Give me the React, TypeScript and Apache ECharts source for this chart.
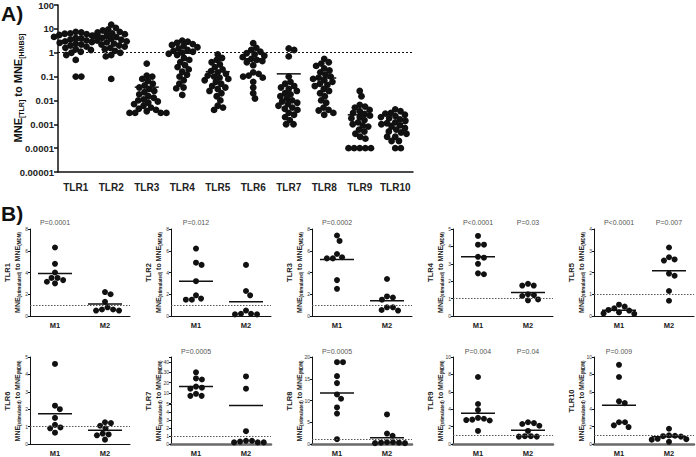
import React, { useEffect, useRef } from "react";
import * as echarts from "echarts";

const FONT = "'Liberation Sans', Arial, Helvetica, sans-serif";

// ---------------- Panel A data ----------------
const tlrCategories = ["TLR1", "TLR2", "TLR3", "TLR4", "TLR5", "TLR6", "TLR7", "TLR8", "TLR9", "TLR10"];

const aTLR1 = [7.5, 7, 6.5, 6.2, 6, 5.5, 5.2, 5, 4.6, 4.2, 4, 3.6, 3.3, 3, 2.8, 2.6, 2.4, 2.2, 2, 1.8, 1.6, 1.4, 1.3, 1.1, 1, 0.8, 0.5, 0.1, 0.1];
const aTLR2 = [15, 11, 9.5, 8.5, 7.5, 7, 6.5, 6, 5.5, 5, 4.5, 4.2, 3.8, 3.5, 3.2, 3, 2.7, 2.4, 2.2, 2, 1.8, 1.6, 1.4, 1.2, 1, 0.8, 0.7, 0.08];
const aTLR3 = [0.35, 0.11, 0.1, 0.08, 0.065, 0.05, 0.042, 0.035, 0.03, 0.025, 0.022, 0.018, 0.015, 0.013, 0.011, 0.01, 0.009, 0.008, 0.007, 0.006, 0.005, 0.0045, 0.004, 0.0035, 0.003, 0.003, 0.003, 0.003];
const aTLR4 = [3.2, 2.9, 2.6, 2.3, 2.1, 1.9, 1.7, 1.5, 1.3, 1.2, 1.1, 1, 0.9, 0.8, 0.6, 0.5, 0.4, 0.3, 0.25, 0.2, 0.16, 0.12, 0.1, 0.07, 0.05, 0.035, 0.032, 0.017];
const aTLR5 = [0.85, 0.6, 0.5, 0.4, 0.32, 0.25, 0.2, 0.17, 0.15, 0.13, 0.11, 0.1, 0.09, 0.08, 0.07, 0.06, 0.05, 0.04, 0.035, 0.03, 0.025, 0.02, 0.015, 0.01, 0.006, 0.005, 0.004];
const aTLR6 = [2.5, 1.6, 1.3, 1.1, 0.95, 0.85, 0.75, 0.65, 0.55, 0.5, 0.45, 0.4, 0.3, 0.15, 0.13, 0.11, 0.1, 0.09, 0.06, 0.035, 0.02, 0.012];
const aTLR7 = [1.5, 1.3, 0.7, 0.1, 0.06, 0.05, 0.04, 0.035, 0.03, 0.025, 0.02, 0.018, 0.015, 0.012, 0.01, 0.009, 0.008, 0.007, 0.006, 0.005, 0.0045, 0.004, 0.003, 0.0025, 0.002, 0.0015, 0.001, 0.001];
const aTLR8 = [0.55, 0.4, 0.35, 0.28, 0.22, 0.18, 0.15, 0.12, 0.1, 0.09, 0.08, 0.07, 0.06, 0.05, 0.045, 0.04, 0.03, 0.025, 0.02, 0.015, 0.01, 0.008, 0.005, 0.004, 0.0038, 0.003, 0.0025];
const aTLR9 = [0.025, 0.015, 0.0065, 0.0055, 0.005, 0.004, 0.0035, 0.003, 0.0027, 0.0023, 0.002, 0.0018, 0.0015, 0.0012, 0.001, 0.0009, 0.0008, 0.0006, 0.0005, 0.0004, 0.0003, 0.00025, 0.0001, 0.0001, 0.0001, 0.0001, 0.0001];
const aTLR10 = [0.0042, 0.0035, 0.003, 0.0028, 0.0025, 0.0022, 0.002, 0.0018, 0.0016, 0.0014, 0.0012, 0.0011, 0.001, 0.0009, 0.0008, 0.0007, 0.0006, 0.0005, 0.00045, 0.0004, 0.0003, 0.0003, 0.0002, 0.0002, 0.0001, 0.0001];
const aValues = [aTLR1, aTLR2, aTLR3, aTLR4, aTLR5, aTLR6, aTLR7, aTLR8, aTLR9, aTLR10];
const aMeans = [3.3, 4.0, 0.036, 0.95, 0.16, 0.56, 0.13, 0.087, 0.0025, 0.0011];
const aYMin = 0.00001;
const aYMax = 100;
const referenceLevel = 1;

// ---------------- Panel B data ----------------
const bGroups = ["M1", "M2"];
const bTitles = ["TLR1", "TLR2", "TLR3", "TLR4", "TLR5", "TLR6", "TLR7", "TLR8", "TLR9", "TLR10"];

const bM1 = [
  [6.3, 4.8, 4.0, 3.5, 3.3, 3.0, 3.15, 3.5],
  [6.2, 4.7, 4.9, 3.2, 1.6, 1.5, 1.5, 1.9],
  [7.4, 6.9, 5.4, 5.3, 5.3, 5.7, 3.3, 2.5],
  [4.6, 4.1, 4.1, 3.4, 3.35, 3.0, 2.4, 2.45],
  [0.52, 0.43, 0.35, 0.28, 0.25, 0.17, 0.12, 0.1],
  [4.6, 2.2, 2.0, 1.5, 1.1, 0.95, 0.9, 0.65],
  [30, 24, 23, 16, 15, 14, 9, 7, 7],
  [18.8, 18.8, 15.6, 14, 11.4, 10.4, 8.4, 7, 1.1],
  [7.7, 4.6, 3.9, 2.9, 2.7, 2.75, 2.8, 3.0, 1.5],
  [9.1, 7.7, 4.9, 4.7, 2.5, 1.95, 2.15, 2.5],
];
const bM2 = [
  [2.2, 2.0, 1.3, 0.8, 0.6, 0.5, 0.5, 0.6],
  [4.7, 2.3, 1.9, 0.5, 0.2, 0.15, 0.15, 0.2],
  [3.4, 1.7, 1.5, 1.8, 0.8, 0.5, 0.55, 0.8],
  [1.75, 1.75, 1.85, 1.2, 1.15, 1.25, 0.9, 0.95],
  [3.15, 2.7, 2.6, 2.55, 1.95, 1.85, 1.15, 0.7],
  [1.25, 1.2, 1.05, 0.9, 0.6, 0.55, 0.5, 0.25],
  [26, 14, 1.6, 0.4, 0.3, 0.2, 0.2, 0.2, 0.4],
  [6.8, 2.4, 1.9, 0.4, 0.3, 0.2, 0.3, 0.2, 0.4],
  [2.5, 2.3, 2.1, 2.4, 1.5, 0.9, 0.85, 0.85, 0.9],
  [1.75, 0.95, 1.0, 0.85, 0.6, 0.5, 0.55, 0.25, 0.9],
];
const bMeanM1 = [3.9, 3.2, 5.2, 3.4, 0.27, 1.74, 16.1, 11.7, 3.54, 4.44];
const bMeanM2 = [1.1, 1.3, 1.4, 1.35, 2.08, 0.79, 4.8, 1.43, 1.59, 0.82];
const bYMax = [8, 8, 8, 5, 4, 5, 5, 20, 10, 10];
const bYInterval = [2, 2, 2, 1, 1, 1, 1, 5, 2, 2];
const tlr7UpperMax = 45;
const tlr7UpperInterval = 10;
const tlr7BreakValue = 5;
const pM1 = ["P=0.0001", "P=0.012", "P=0.0002", "P<0.0001", "P<0.0001", "", "P=0.0005", "P=0.0005", "P=0.004", "P=0.009"];
const pM2 = ["", "", "", "P=0.03", "P=0.007", "", "", "", "P=0.04", ""];

// ---------------- layout ----------------
const A_LEFT = 58, A_TOP = 4, A_WIDTH = 355, A_HEIGHT = 168;
const panelLeft = [30, 171, 312, 453, 594];
const panelWidth = 100;
const rowTop = [229, 357];
const rowHeight = [87, 88];
const rowPY = [222, 351];

// beeswarm: pixel offsets so that dots of spacing d do not collide
function swarm(pixYs: number[], d: number): number[] {
  const order = pixYs.map((_, i) => i).sort((a, b) => pixYs[a] - pixYs[b]);
  const placed: { x: number; y: number }[] = [];
  const out = new Array(pixYs.length).fill(0);
  for (const i of order) {
    const y = pixYs[i];
    const ints: [number, number][] = [];
    for (const p of placed) {
      const dy = Math.abs(p.y - y);
      if (dy < d) {
        const w = Math.sqrt(d * d - dy * dy);
        ints.push([p.x - w, p.x + w]);
      }
    }
    const cands = [0];
    ints.forEach(([a, b]) => cands.push(a, b));
    cands.sort((a, b) => Math.abs(a) - Math.abs(b) || b - a);
    let chosen = 0;
    for (const c of cands) {
      if (ints.every(([a, b]) => c <= a + 1e-6 || c >= b - 1e-6)) {
        chosen = c;
        break;
      }
    }
    placed.push({ x: chosen, y });
    out[i] = chosen;
  }
  return out;
}

function meanLine(xi: number, yi: number, data: number[][], half: number, width: number) {
  return {
    type: "custom",
    xAxisIndex: xi,
    yAxisIndex: yi,
    data,
    silent: true,
    z: 4,
    encode: { x: 0, y: 1 },
    renderItem: (_params: any, api: any) => {
      const p = api.coord([api.value(0), api.value(1)]);
      return {
        type: "line",
        shape: { x1: p[0] - half, y1: p[1], x2: p[0] + half, y2: p[1] },
        style: { stroke: "#111", lineWidth: width },
      };
    },
  };
}

function rotText(x: number, y: number, text: string, rich: any, extra: any = {}) {
  return {
    type: "text",
    x,
    y,
    rotation: Math.PI / 2,
    silent: true,
    style: {
      text,
      rich,
      fill: "#111",
      fontFamily: FONT,
      align: "center",
      verticalAlign: "middle",
      textAlign: "center",
      textVerticalAlign: "middle",
      ...extra,
    },
  };
}

function plainText(x: number, y: number, text: string, size: number, weight: string, color: string, align = "center") {
  return {
    type: "text",
    x,
    y,
    silent: true,
    style: {
      text,
      fill: color,
      fontFamily: FONT,
      fontSize: size,
      fontWeight: weight,
      align,
      verticalAlign: "middle",
      textAlign: align,
      textVerticalAlign: "middle",
    },
  };
}

function buildOption() {
  const grid: any[] = [];
  const xAxis: any[] = [];
  const yAxis: any[] = [];
  const series: any[] = [];
  const graphic: any[] = [];

  // ----- Panel A -----
  grid.push({ left: A_LEFT, top: A_TOP, width: A_WIDTH, height: A_HEIGHT });
  xAxis.push({
    type: "category",
    gridIndex: 0,
    data: tlrCategories,
    axisLine: { lineStyle: { color: "#111", width: 1.5 } },
    axisTick: { alignWithLabel: true, length: 3, lineStyle: { color: "#111", width: 1.5 } },
    axisLabel: { interval: 0, fontFamily: FONT, fontWeight: "bold", fontSize: 10, color: "#222", margin: 10 },
  });
  yAxis.push({
    type: "log",
    logBase: 10,
    gridIndex: 0,
    min: aYMin,
    max: aYMax,
    splitNumber: 7,
    axisLine: { show: true, lineStyle: { color: "#111", width: 1.5 } },
    axisTick: { show: true, length: 4, lineStyle: { color: "#111", width: 1.5 } },
    splitLine: { show: false },
    minorTick: { show: false },
    axisLabel: {
      fontFamily: FONT,
      fontWeight: "bold",
      fontSize: 9.5,
      color: "#222",
      margin: 4,
      formatter: (v: number) => {
        const e = Math.round(Math.log10(v));
        return e >= 0 ? String(Math.pow(10, e)) : Math.pow(10, e).toFixed(-e);
      },
    },
  });
  const pxPerDecade = A_HEIGHT / (Math.log10(aYMax) - Math.log10(aYMin));
  const aData: any[] = [];
  aValues.forEach((vals, ci) => {
    const offs = swarm(vals.map((v) => -Math.log10(v) * pxPerDecade), 5.6);
    vals.forEach((v, k) => aData.push({ value: [ci, v], symbolOffset: [offs[k], 0] }));
  });
  series.push({
    type: "scatter",
    xAxisIndex: 0,
    yAxisIndex: 0,
    data: aData,
    symbol: "circle",
    symbolSize: 6.8,
    itemStyle: { color: "#111", opacity: 1 },
    silent: true,
    z: 3,
    markLine: {
      silent: true,
      symbol: ["none", "none"],
      label: { show: false },
      lineStyle: { type: [2, 2], color: "#111", width: 1 },
      data: [{ yAxis: referenceLevel }],
    },
  });
  series.push(meanLine(0, 0, aMeans.map((m, i) => [i, m]), 12, 1.5));

  graphic.push(plainText(1, 13, "A)", 21, "bold", "#111", "left"));
  graphic.push(
    rotText(18, 88, "{m|MNE}{s|[TLR]}{m| to MNE}{s|[HMBS]}", {
      m: { fontSize: 11, fontWeight: "bold", fontFamily: FONT, lineHeight: 14, fill: "#111" },
      s: { fontSize: 7, fontWeight: "bold", fontFamily: FONT, verticalAlign: "bottom", fill: "#111" },
    })
  );
  graphic.push(plainText(1, 213, "B)", 21, "bold", "#111", "left"));

  // ----- Panel B -----
  for (let p = 0; p < 10; p++) {
    const row = p < 5 ? 0 : 1;
    const col = p % 5;
    const left = panelLeft[col];
    const top = rowTop[row];
    const h = rowHeight[row];
    const thickAxis = p >= 6;
    const segs =
      p === 6
        ? [
            { top: 357, height: 46, min: 0, max: tlr7UpperMax, interval: tlr7UpperInterval, lo: tlr7BreakValue, hi: Infinity, bottom: false },
            { top: 404, height: 41, min: 0, max: bYMax[p], interval: bYInterval[p], lo: -Infinity, hi: tlr7BreakValue, bottom: true },
          ]
        : [{ top, height: h, min: 0, max: bYMax[p], interval: bYInterval[p], lo: -Infinity, hi: Infinity, bottom: true }];

    for (const seg of segs) {
      const gi = grid.length;
      grid.push({ left, top: seg.top, width: panelWidth, height: seg.height });
      xAxis.push({
        type: "category",
        gridIndex: gi,
        data: bGroups,
        show: seg.bottom,
        axisLine: { lineStyle: { color: thickAxis ? "#6a6a6a" : "#111", width: thickAxis ? 2.5 : 1 } },
        axisTick: { alignWithLabel: true, length: 3, lineStyle: { color: "#111", width: 1 } },
        axisLabel: { interval: 0, fontFamily: FONT, fontWeight: "bold", fontSize: 7.5, color: "#222", margin: 5 },
      });
      const isUpper = !seg.bottom;
      yAxis.push({
        type: "value",
        gridIndex: gi,
        min: seg.min,
        max: seg.max,
        interval: seg.interval,
        axisLine: { show: true, lineStyle: { color: "#111", width: 1 } },
        axisTick: { show: true, length: 2, lineStyle: { color: "#111", width: 1 } },
        splitLine: { show: false },
        axisLabel: {
          fontFamily: FONT,
          fontSize: 5,
          color: "#333",
          margin: 2,
          formatter: (v: number) => (isUpper ? (v > 0 && v % 10 === 0 ? String(v) : "") : String(v)),
        },
      });
      const pxPerUnit = seg.height / (seg.max - seg.min);
      const data: any[] = [];
      [bM1[p], bM2[p]].forEach((vals, g) => {
        const sel = vals.filter((v) => v > seg.lo && v <= seg.hi);
        const offs = swarm(sel.map((v) => -v * pxPerUnit), 6);
        sel.forEach((v, k) => data.push({ value: [g, v], symbolOffset: [offs[k], 0] }));
      });
      const s: any = {
        type: "scatter",
        xAxisIndex: gi,
        yAxisIndex: gi,
        data,
        symbol: "circle",
        symbolSize: 6,
        itemStyle: { color: "#111", opacity: 1 },
        silent: true,
        z: 3,
      };
      if (seg.bottom) {
        s.markLine = {
          silent: true,
          symbol: ["none", "none"],
          label: { show: false },
          lineStyle: { type: [1.5, 1.5], color: "#555", width: 1 },
          data: [{ yAxis: referenceLevel }],
        };
      }
      series.push(s);
      const means = [bMeanM1[p], bMeanM2[p]]
        .map((m, g) => [g, m])
        .filter(([, m]) => m > seg.lo && m <= seg.hi);
      series.push(meanLine(gi, gi, means, 17, 1.5));
    }

    // titles
    const cy = top + h / 2;
    graphic.push(
      rotText(left - 23, cy, "{t|" + bTitles[p] + "}", {
        t: { fontSize: 7.5, fontWeight: "bold", fontFamily: FONT, fill: "#222" },
      })
    );
    graphic.push(
      rotText(left - 13, cy, "{m|MNE}{s|(stimulated)}{m| to MNE}{s|(MDM)}", {
        m: { fontSize: 7, fontWeight: "bold", fontFamily: FONT, lineHeight: 9, fill: "#222" },
        s: { fontSize: 4.5, fontWeight: "bold", fontFamily: FONT, verticalAlign: "bottom", fill: "#222" },
      })
    );
    if (pM1[p]) graphic.push(plainText(left + panelWidth * 0.25, rowPY[row], pM1[p], 7, "normal", "#555"));
    if (pM2[p]) graphic.push(plainText(left + panelWidth * 0.75, rowPY[row], pM2[p], 7, "normal", "#555"));
  }

  return {
    animation: false,
    backgroundColor: "#fff",
    grid,
    xAxis,
    yAxis,
    series,
    graphic: { elements: graphic },
  };
}

export default function App() {
  const ref = useRef<HTMLDivElement>(null);
  useEffect(() => {
    const chart = echarts.init(ref.current as HTMLDivElement, null, { renderer: "svg" });
    chart.setOption(buildOption() as any);
    return () => chart.dispose();
  }, []);
  return (
    <div
      ref={ref}
      style={{ position: "fixed", left: 0, top: 0, width: 696, height: 457, background: "#fff" }}
    />
  );
}
